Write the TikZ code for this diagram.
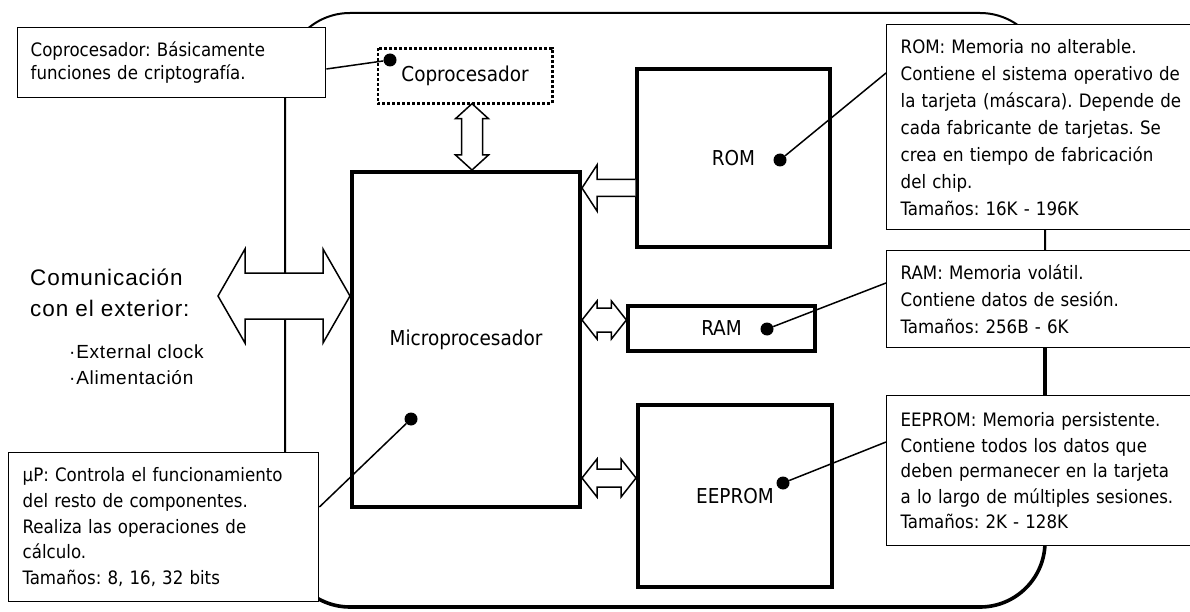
\documentclass[tikz,border=0pt]{standalone}
\usepackage{fontspec}
\setmainfont{DejaVu Sans Condensed}
\newfontfamily\commfont[LetterSpace=4]{Liberation Sans}
\usetikzlibrary{calc}
\tikzset{
  annbox/.style={draw, line width=1.4pt, fill=white, anchor=north west, inner ysep=0pt, inner xsep=13pt, align=left,
     text width=282pt, font=\frenchspacing\fontsize{18.5}{#1}\selectfont},
  membox/.style={draw, fill=white, inner sep=0pt, font=\fontsize{20.5}{22}\selectfont},
  dotmark/.style={circle, fill=black, inner sep=0pt, minimum size=13pt},
  conn/.style={line width=1.5pt},
  arr/.style={draw, line width=1.5pt, fill=white, line join=miter},
}
\newcommand\HDArrow[5]{%
  \draw[arr] (#1) -- ++(#3,-#5) -- ++(0,#5-#4) -- ($(#2)+(-#3,-#4)$) -- ++(0,#4-#5) -- (#2)
     -- ++(-#3,#5) -- ++(0,#4-#5) -- ($(#1)+(#3,#4)$) -- ++(0,#5-#4) -- cycle;}
\newcommand\VDArrow[5]{%
  \draw[arr] (#1) -- ++(-#5,#3) -- ++(#5-#4,0) -- ($(#2)+(-#4,-#3)$) -- ++(#4-#5,0) -- (#2)
     -- ++(#5,-#3) -- ++(#4-#5,0) -- ($(#1)+(#4,#3)$) -- ++(#5-#4,0) -- cycle;}
\begin{document}
\begin{tikzpicture}[x=1pt,y=-1pt]
\useasboundingbox (0,0) rectangle (1190,612);
% card outline
\draw[line width=2pt, rounded corners=65pt] (285,13) rectangle (1045,607);
\draw[line width=3.6pt, rounded corners=65pt] (285,550) -- (285,607) -- (1045,607) -- (1045,250);

% memory / processor boxes
\node[membox, line width=4pt, minimum width=228pt, minimum height=335pt] (micro) at (466,339.5) {Microprocesador};
\node[membox, draw=none, minimum width=174pt, minimum height=55pt] (cop) at (465,76) {Coprocesador};
\draw[line width=2.6pt, dash pattern=on 3pt off 2pt] (cop.north west) rectangle (cop.south east);
\node[membox, line width=3.5pt, minimum width=193pt, minimum height=178pt] (rom) at (733.5,158) {ROM};
\node[membox, line width=3.2pt, minimum width=187pt, minimum height=45pt] (ram) at (721.5,328.5) {RAM};
\node[membox, line width=4pt, minimum width=194pt, minimum height=182pt] (eeprom) at (735,496) {EEPROM};

% arrows
\coordinate (extl) at (218,296);
\HDArrow{extl}{micro.west |- extl}{27}{23}{47}
\VDArrow{cop.south -| 472,0}{micro.north -| 472,0}{15}{10.5}{16.5}
\HDArrow{micro.east |- 0,320}{ram.west |- 0,320}{15}{12}{19}
\HDArrow{micro.east |- 0,478}{eeprom.west |- 0,478}{15}{9}{19}
\coordinate (romtip) at (micro.east |- 0,188);
\coordinate (romtail) at (rom.west |- 0,188);
\draw[arr] ($(romtail)+(0,-8.5)$) -- ($(romtip)+(15,-8.5)$) -- ++(0,-14.5) -- (romtip) -- ++(15,23) -- ++(0,-14.5) -- ($(romtail)+(0,8.5)$);

% annotation boxes
\node[annbox=23, minimum width=306pt, minimum height=70pt] (copann) at (17,27)
  {Coprocesador: Básicamente\\funciones de criptografía.};
\node[annbox=25.7, minimum width=308pt, minimum height=149pt, inner xsep=14pt] (upann) at (8,452)
  {µP: Controla el funcionamiento\\del resto de componentes.\\Realiza las operaciones de\\cálculo.\\Tamaños: 8, 16, 32 bits};
\node[annbox=27, minimum width=308pt, minimum height=205pt, inner xsep=14pt] (romann) at (886,24)
  {ROM: Memoria no alterable.\\Contiene el sistema operativo de\\la tarjeta (máscara). Depende de\\cada fabricante de tarjetas. Se\\crea en tiempo de fabricación\\del chip.\\Tamaños: 16K - 196K};
\node[annbox=27, minimum width=308pt, minimum height=97pt, inner xsep=14pt] (ramann) at (886,250)
  {RAM: Memoria volátil.\\Contiene datos de sesión.\\Tamaños: 256B - 6K};
\node[annbox=25.5, minimum width=308pt, minimum height=150pt, inner xsep=14pt] (eepann) at (886,395)
  {EEPROM: Memoria persistente.\\Contiene todos los datos que\\deben permanecer en la tarjeta\\a lo largo de múltiples sesiones.\\Tamaños: 2K - 128K};

% dots and connectors
\node[dotmark] (copdot) at (390,60) {};
\node[dotmark] (romdot) at (780,160) {};
\node[dotmark] (ramdot) at (767,329) {};
\node[dotmark] (eepdot) at (783,483) {};
\node[dotmark] (micdot) at (411,419) {};
\draw[conn] (copdot) -- (copann.east |- 0,69);
\draw[conn] (romdot) -- (romann.west |- 0,73);
\draw[conn] (ramdot) -- (ramann.west |- 0,283);
\draw[conn] (eepdot) -- (eepann.west |- 0,442);
\draw[conn] (micdot) -- (upann.east |- 0,507);

% external communication text
\node[anchor=north west, inner sep=0pt, align=left, font=\commfont\fontsize{22.5}{31}\selectfont] (comm) at (30,269)
  {Comunicación\\con el exterior:};
\node[anchor=north west, inner sep=0pt, align=left, font=\commfont\fontsize{19}{26}\selectfont] (ext) at (69,345)
  {·External clock\\·Alimentación};
\end{tikzpicture}
\end{document}
